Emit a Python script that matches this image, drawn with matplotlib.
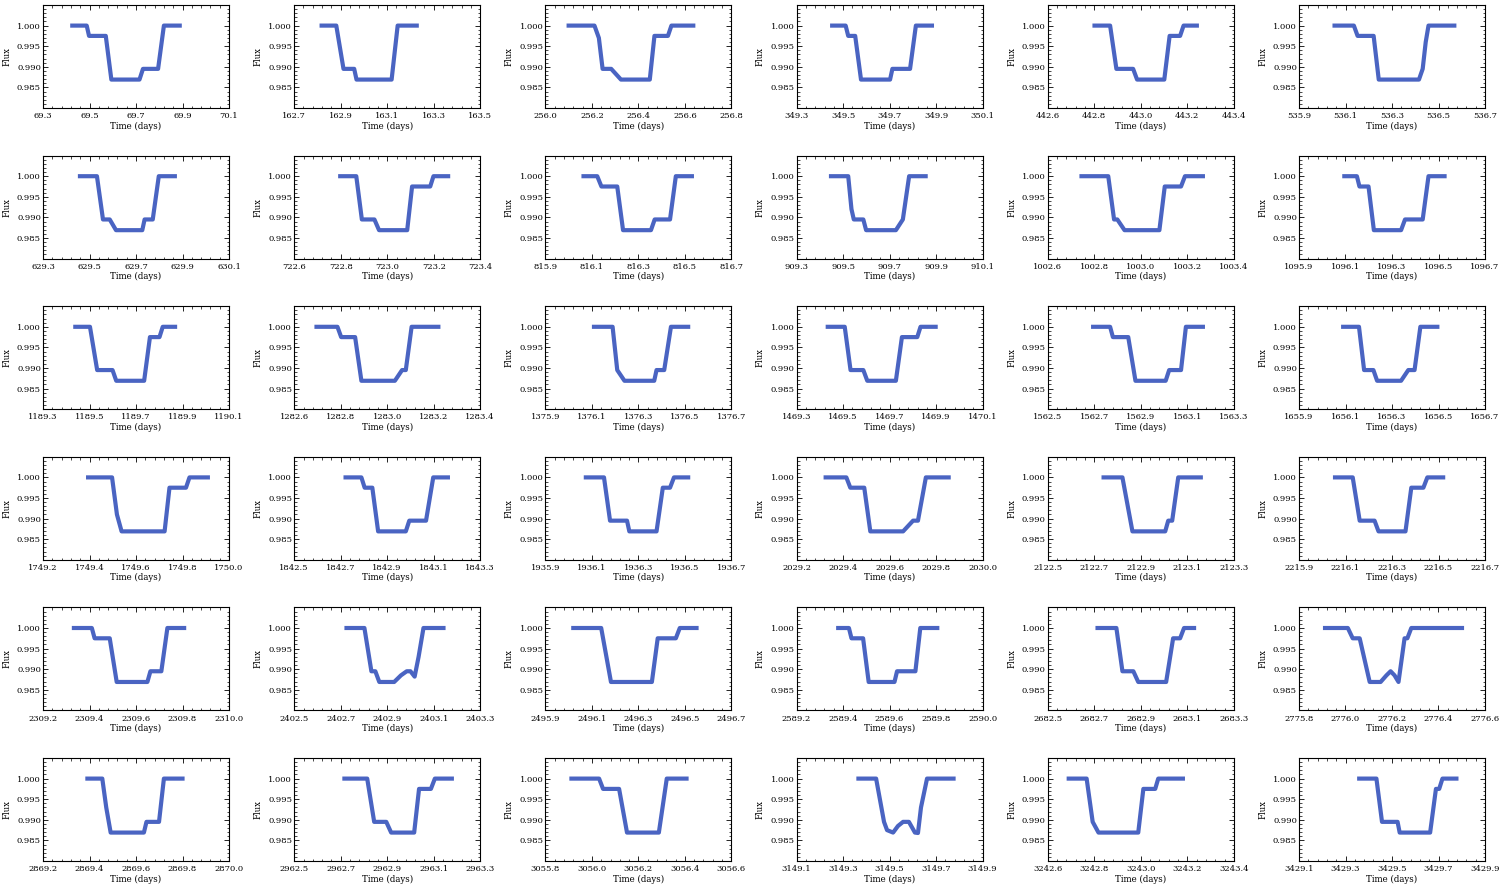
import matplotlib
matplotlib.use('Agg')
import matplotlib.pyplot as plt
from matplotlib.ticker import FixedLocator, MultipleLocator, FormatStrFormatter

# flux levels
U, S, B, D = 1.0, 0.9975, 0.9895, 0.9869

# left edge (days) of every panel's time axis, row by row
x_starts = [69.3, 162.7, 256.0, 349.3, 442.6, 535.9,
            629.3, 722.6, 815.9, 909.3, 1002.6, 1095.9,
            1189.3, 1282.6, 1375.9, 1469.3, 1562.5, 1655.9,
            1749.2, 1842.5, 1935.9, 2029.2, 2122.5, 2215.9,
            2309.2, 2402.5, 2495.9, 2589.2, 2682.5, 2775.8,
            2869.2, 2962.5, 3055.8, 3149.1, 3242.6, 3429.1]

y_ticks = [0.985, 0.990, 0.995, 1.000]

# light-curve vertices per panel: (days after panel start, flux)
curves = [
    [(0.117, U), (0.188, U), (0.198, S), (0.270, S), (0.294, D), (0.415, D), (0.430, B), (0.495, B), (0.520, U), (0.597, U)],
    [(0.109, U), (0.181, U), (0.212, B), (0.258, B), (0.268, D), (0.419, D), (0.445, U), (0.536, U)],
    [(0.091, U), (0.211, U), (0.230, 0.997), (0.246, B), (0.283, B), (0.325, D), (0.449, D), (0.469, S), (0.527, S), (0.542, U), (0.645, U)],
    [(0.144, U), (0.211, U), (0.222, S), (0.252, S), (0.277, D), (0.402, D), (0.412, B), (0.488, B), (0.513, U), (0.591, U)],
    [(0.192, U), (0.268, U), (0.295, B), (0.367, B), (0.384, D), (0.501, D), (0.524, S), (0.569, S), (0.584, U), (0.650, U)],
    [(0.144, U), (0.236, U), (0.252, S), (0.321, S), (0.343, D), (0.516, D), (0.532, 0.9895), (0.545, 0.996), (0.557, U), (0.677, U)],

    [(0.150, U), (0.232, U), (0.258, B), (0.287, B), (0.314, D), (0.427, D), (0.437, B), (0.472, B), (0.498, U), (0.576, U)],
    [(0.189, U), (0.267, U), (0.291, B), (0.345, B), (0.365, D), (0.486, D), (0.507, S), (0.585, S), (0.599, U), (0.671, U)],
    [(0.155, U), (0.223, U), (0.241, S), (0.309, S), (0.334, D), (0.454, D), (0.470, B), (0.536, B), (0.561, U), (0.639, U)],
    [(0.139, U), (0.222, U), (0.236, 0.992), (0.246, B), (0.287, B), (0.299, D), (0.427, D), (0.457, B), (0.484, U), (0.564, U)],
    [(0.136, U), (0.260, U), (0.285, B), (0.299, B), (0.330, D), (0.480, D), (0.503, S), (0.573, S), (0.590, U), (0.676, U)],
    [(0.186, U), (0.249, U), (0.260, S), (0.299, S), (0.322, D), (0.439, D), (0.456, B), (0.532, B), (0.557, U), (0.635, U)],

    [(0.130, U), (0.202, U), (0.233, B), (0.299, B), (0.315, D), (0.435, D), (0.460, S), (0.501, S), (0.515, U), (0.577, U)],
    [(0.087, U), (0.186, U), (0.202, S), (0.262, S), (0.289, D), (0.433, D), (0.464, B), (0.480, B), (0.505, U), (0.629, U)],
    [(0.200, U), (0.289, U), (0.309, B), (0.340, D), (0.468, D), (0.478, B), (0.511, B), (0.540, U), (0.623, U)],
    [(0.125, U), (0.207, U), (0.232, B), (0.287, B), (0.304, D), (0.427, D), (0.453, S), (0.519, S), (0.533, U), (0.607, U)],
    [(0.186, U), (0.268, U), (0.280, S), (0.346, S), (0.377, D), (0.507, D), (0.522, B), (0.573, B), (0.594, U), (0.676, U)],
    [(0.181, U), (0.258, U), (0.280, B), (0.320, B), (0.336, D), (0.439, D), (0.470, B), (0.497, B), (0.522, U), (0.604, U)],

    [(0.185, U), (0.297, U), (0.318, 0.991), (0.338, D), (0.523, D), (0.544, S), (0.615, S), (0.630, U), (0.718, U)],
    [(0.212, U), (0.289, U), (0.303, S), (0.336, S), (0.361, D), (0.480, D), (0.495, B), (0.567, B), (0.598, U), (0.670, U)],
    [(0.165, U), (0.252, U), (0.278, B), (0.351, B), (0.361, D), (0.478, D), (0.505, S), (0.536, S), (0.553, U), (0.623, U)],
    [(0.116, U), (0.214, U), (0.231, S), (0.291, S), (0.317, D), (0.458, D), (0.501, B), (0.522, B), (0.556, U), (0.663, U)],
    [(0.231, U), (0.321, U), (0.364, D), (0.505, D), (0.518, B), (0.535, B), (0.561, U), (0.667, U)],
    [(0.146, U), (0.231, U), (0.261, B), (0.325, B), (0.342, D), (0.458, D), (0.483, S), (0.535, S), (0.552, U), (0.629, U)],

    [(0.124, U), (0.210, U), (0.222, S), (0.287, S), (0.317, D), (0.449, D), (0.462, B), (0.509, B), (0.535, U), (0.616, U)],
    [(0.216, U), (0.302, U), (0.332, B), (0.349, B), (0.366, D), (0.430, D), (0.459, 0.9885), (0.484, B), (0.500, B), (0.518, 0.9882), (0.535, 0.993), (0.556, U), (0.651, U)],
    [(0.111, U), (0.240, U), (0.282, D), (0.458, D), (0.483, S), (0.561, S), (0.578, U), (0.659, U)],
    [(0.170, U), (0.225, U), (0.236, S), (0.286, S), (0.310, D), (0.421, D), (0.432, B), (0.511, B), (0.532, U), (0.614, U)],
    [(0.205, U), (0.295, U), (0.321, B), (0.368, B), (0.389, D), (0.509, D), (0.539, S), (0.569, S), (0.586, U), (0.638, U)],
    [(0.103, U), (0.210, U), (0.231, S), (0.261, S), (0.304, D), (0.351, D), (0.376, 0.9885), (0.394, B), (0.411, 0.9885), (0.428, D), (0.454, S), (0.466, S), (0.483, U), (0.710, U)],

    [(0.182, U), (0.255, U), (0.272, 0.993), (0.291, D), (0.434, D), (0.445, B), (0.499, B), (0.520, U), (0.609, U)],
    [(0.207, U), (0.314, U), (0.344, B), (0.396, B), (0.417, D), (0.516, D), (0.537, S), (0.588, S), (0.605, U), (0.687, U)],
    [(0.103, U), (0.231, U), (0.248, S), (0.317, S), (0.351, D), (0.488, D), (0.522, U), (0.616, U)],
    [(0.257, U), (0.342, U), (0.376, B), (0.389, 0.9875), (0.415, D), (0.436, 0.9885), (0.458, B), (0.483, B), (0.509, D), (0.522, 0.9868), (0.535, 0.993), (0.561, U), (0.684, U)],
    [(0.081, U), (0.167, U), (0.193, B), (0.218, D), (0.389, D), (0.411, S), (0.462, S), (0.475, U), (0.590, U)],
    [(0.250, U), (0.333, U), (0.357, B), (0.424, B), (0.433, D), (0.564, D), (0.589, S), (0.603, S), (0.617, U), (0.686, U)],
]

plt.rcParams['font.family'] = ['DejaVu Serif']

fig = plt.figure(figsize=(15, 8.89), dpi=100)
W, H = 1500.0, 889.0
for i, (x0, pts) in enumerate(zip(x_starts, curves)):
    r, c = divmod(i, 6)
    left = (43 + 251.2 * c) / W
    bottom = 1 - (5 + 150.6 * r + 103) / H
    ax = fig.add_axes([left, bottom, 186 / W, 103 / H])
    t = [x0 + p[0] for p in pts]
    f = [p[1] for p in pts]
    ax.plot(t, f, color='#4a64c2', lw=3.0, solid_joinstyle='round', solid_capstyle='butt')
    ax.set_xlim(x0, x0 + 0.8)
    ax.set_ylim(0.980, 1.005)
    ax.xaxis.set_major_locator(FixedLocator([round(x0 + 0.2 * k, 1) for k in range(5)]))
    ax.xaxis.set_major_formatter(FormatStrFormatter('%.1f'))
    ax.xaxis.set_minor_locator(FixedLocator([x0 + 0.04 * k for k in range(21)]))
    ax.yaxis.set_major_locator(FixedLocator(y_ticks))
    ax.yaxis.set_major_formatter(FormatStrFormatter('%.3f'))
    ax.yaxis.set_minor_locator(MultipleLocator(0.001))
    ax.tick_params(which='both', direction='in', top=True, right=True, labelsize=6.0)
    ax.tick_params(axis='x', which='major', pad=3)
    ax.tick_params(axis='y', which='major', pad=1.5)
    ax.tick_params(which='major', length=3.5, width=0.6)
    ax.tick_params(which='minor', length=1.8, width=0.5)
    for sp in ax.spines.values():
        sp.set_linewidth(0.8)
    ax.set_xlabel('Time (days)', fontsize=6.2, labelpad=1)
    ax.set_ylabel('Flux', fontsize=6.2, labelpad=4)

fig.savefig('out.png', dpi=100)
